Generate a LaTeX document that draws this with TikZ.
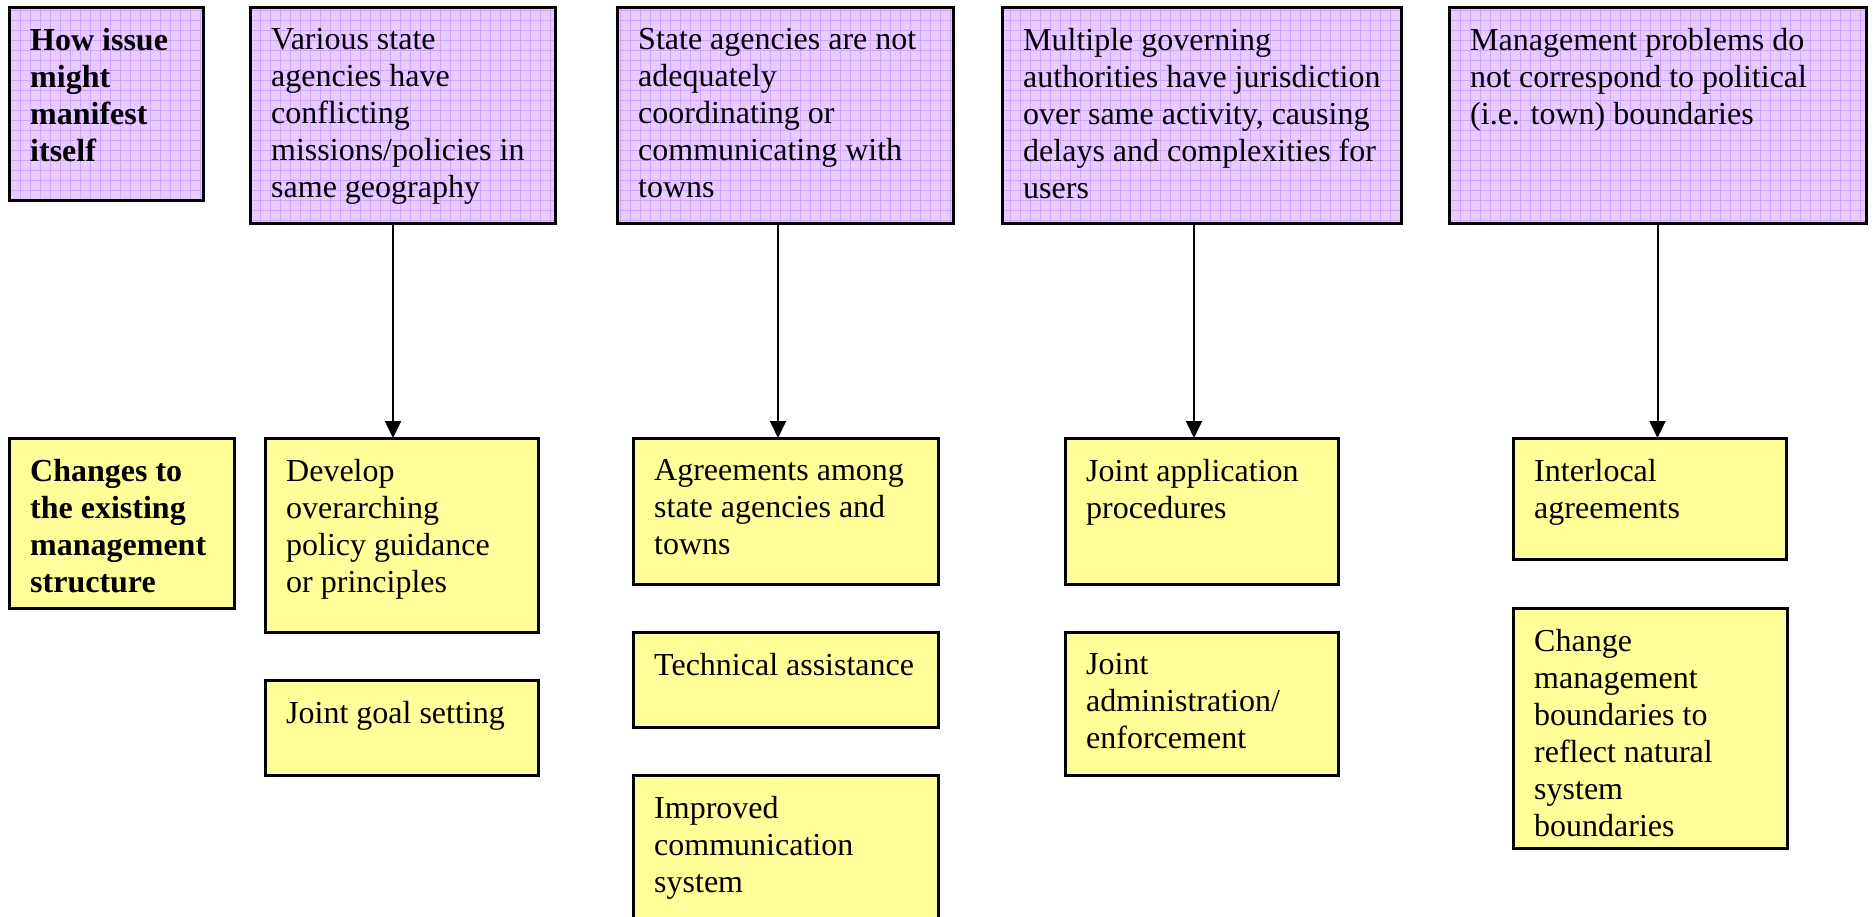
\documentclass[tikz,border=0pt]{standalone}
\usepackage{fontspec}
\setmainfont{Liberation Serif}
\usetikzlibrary{arrows.meta}
\definecolor{lav}{RGB}{230,204,255}
\definecolor{lavgrid}{RGB}{208,164,255}
\definecolor{yel}{RGB}{255,255,153}
\tikzset{
  boxline/.style={draw=black, line width=3pt, rectangle, inner sep=0pt, outer sep=0pt},
  ybox/.style={boxline, fill=yel},
  txt/.style={anchor=north west, inner sep=0pt, align=left, font=\fontsize{32}{37}\selectfont},
  btxt/.style={txt, font=\fontsize{32}{37}\selectfont\bfseries},
  arr/.style={line width=2pt, -{Triangle[width=16pt,length=17pt]}},
}
% name, x1, y1, x2, y2
\newcommand{\purplebox}[5]{%
  \fill[lav] (#2,#3) rectangle (#4,#5);
  \begin{scope}
    \clip (#2,#3) rectangle (#4,#5);
    \draw[lavgrid, line width=1pt, step=10pt] (#2,#5) grid (#4,#3);
  \end{scope}
  \node[boxline, minimum width={(#4-#2)*1pt}, minimum height={(#5-#3)*1pt}] (#1) at ({(#2+#4)/2},{(#3+#5)/2}) {};
}
\newcommand{\yellowbox}[5]{%
  \node[ybox, minimum width={(#4-#2)*1pt}, minimum height={(#5-#3)*1pt}] (#1) at ({(#2+#4)/2},{(#3+#5)/2}) {};
}
\begin{document}
\begin{tikzpicture}[x=1pt, y=-1pt]
\useasboundingbox (0,0) rectangle (1873,916);
\clip (0,0) rectangle (1873,916);
\fill[white] (0,0) rectangle (1873,916);

% top row (purple)
\purplebox{B1}{9}{7}{203}{200}
\purplebox{B2}{250}{7}{555}{223}
\purplebox{B3}{617}{7}{953}{223}
\purplebox{B4}{1002}{7}{1401}{223}
\purplebox{B5}{1449}{7}{1866}{223}

\node[btxt] (tB1) at ([xshift=21pt,yshift=-21pt]B1.north west) {How issue\\might\\manifest\\itself};
\node[txt] (tB2) at ([xshift=21pt,yshift=-21pt]B2.north west) {Various state\\agencies have\\conflicting\\missions/policies in\\same geography};
\node[txt] (tB3) at ([xshift=21pt,yshift=-21pt]B3.north west) {State agencies are not\\adequately\\coordinating or\\communicating with\\towns};
\node[txt] (tB4) at ([xshift=21pt,yshift=-21pt]B4.north west) {Multiple governing\\authorities have jurisdiction\\over same activity, causing\\delays and complexities for\\users};
\node[txt] (tB5) at ([xshift=21pt,yshift=-21pt]B5.north west) {Management problems do\\not correspond to political\\(i.e. town) boundaries};

% yellow boxes
\yellowbox{Y0}{9}{438}{234}{608}
\yellowbox{Y1}{265}{438}{538}{632}
\yellowbox{Y2}{633}{438}{938}{584}
\yellowbox{Y3}{1065}{438}{1338}{584}
\yellowbox{Y4}{1513}{438}{1786}{559}
\yellowbox{Y1b}{265}{680}{538}{775}
\yellowbox{Y2b}{633}{632}{938}{727}
\yellowbox{Y3b}{1065}{632}{1338}{775}
\yellowbox{Y4b}{1513}{608}{1787}{848}
\yellowbox{Y2c}{633}{775}{938}{940}

\node[btxt] (tY0) at ([xshift=21pt,yshift=-21pt]Y0.north west) {Changes to\\the existing\\management\\structure};
\node[txt] (tY1) at ([xshift=21pt,yshift=-21pt]Y1.north west) {Develop\\overarching\\policy guidance\\or principles};
\node[txt] (tY2) at ([xshift=21pt,yshift=-21pt]Y2.north west) {Agreements among\\state agencies and\\towns};
\node[txt] (tY3) at ([xshift=21pt,yshift=-21pt]Y3.north west) {Joint application\\procedures};
\node[txt] (tY4) at ([xshift=21pt,yshift=-21pt]Y4.north west) {Interlocal\\agreements};
\node[txt] (tY1b) at ([xshift=21pt,yshift=-21pt]Y1b.north west) {Joint goal setting};
\node[txt] (tY2b) at ([xshift=21pt,yshift=-21pt]Y2b.north west) {Technical assistance};
\node[txt] (tY3b) at ([xshift=21pt,yshift=-21pt]Y3b.north west) {Joint\\administration/\\enforcement};
\node[txt] (tY4b) at ([xshift=21pt,yshift=-21pt]Y4b.north west) {Change\\management\\boundaries to\\reflect natural\\system\\boundaries};
\node[txt] (tY2c) at ([xshift=21pt,yshift=-21pt]Y2c.north west) {Improved\\communication\\system};

% arrows
\draw[arr] ([xshift=-9.5pt]B2.south) -- ([xshift=-9.5pt]B2.south |- Y1.north);
\draw[arr] ([xshift=-7pt]B3.south) -- ([xshift=-7pt]B3.south |- Y2.north);
\draw[arr] ([xshift=-7.5pt]B4.south) -- ([xshift=-7.5pt]B4.south |- Y3.north);
\draw[arr] (B5.south) -- (B5.south |- Y4.north);
\end{tikzpicture}
\end{document}
